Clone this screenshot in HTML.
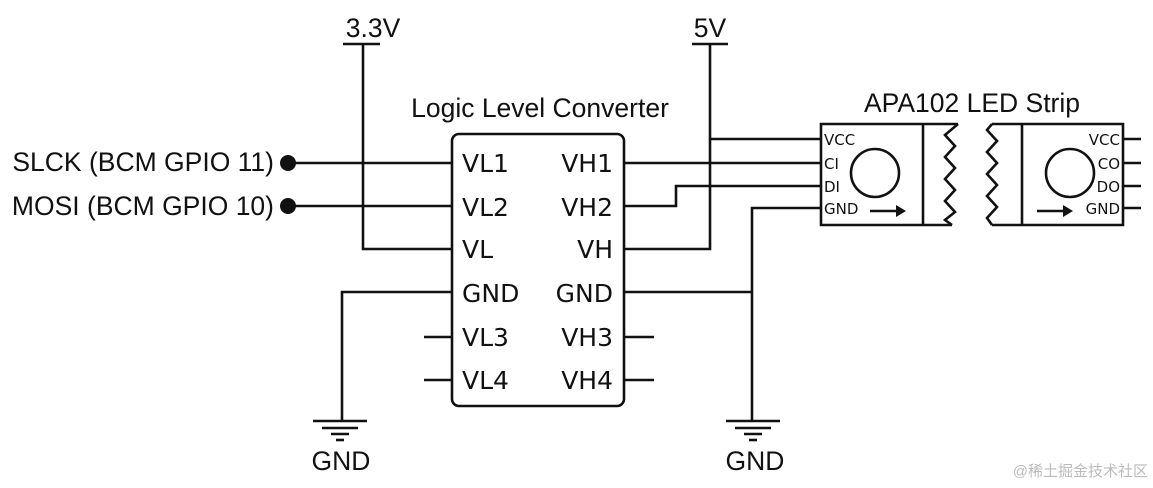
<!DOCTYPE html>
<html><head><meta charset="utf-8"><style>
html,body{margin:0;padding:0;background:#fff;}
svg{display:block;}
.a{font-family:"Liberation Sans",sans-serif;font-size:26.5px;fill:#111;}
.d{font-family:"DejaVu Sans",sans-serif;font-size:25px;fill:#111;}
.s{font-family:"DejaVu Sans",sans-serif;font-size:15px;fill:#111;}
</style></head><body>
<svg width="1153" height="488" viewBox="0 0 1153 488" xmlns="http://www.w3.org/2000/svg">
<g stroke="#111" stroke-width="2.6" fill="none">
<rect x="452" y="134" width="172" height="272" rx="7"/>
<line x1="343" y1="44" x2="380" y2="44"/>
<polyline points="363,44 363,249 452,249"/>
<line x1="692" y1="44" x2="728" y2="44"/>
<polyline points="624,249 710,249 710,44"/>
<line x1="710" y1="139" x2="821" y2="139"/>
<line x1="288" y1="163" x2="452" y2="163"/>
<line x1="288" y1="206" x2="452" y2="206"/>
<line x1="624" y1="163" x2="821" y2="163"/>
<polyline points="624,206 676,206 676,186 821,186"/>
<polyline points="452,292 342,292 342,421"/>
<polyline points="624,292 752,292"/>
<polyline points="821,208 752,208 752,421"/>
<line x1="424" y1="337" x2="452" y2="337"/>
<line x1="424" y1="380" x2="452" y2="380"/>
<line x1="624" y1="337" x2="654" y2="337"/>
<line x1="624" y1="380" x2="654" y2="380"/>
<line x1="313" y1="421" x2="367" y2="421"/>
<line x1="322" y1="428" x2="358" y2="428"/>
<line x1="331" y1="434" x2="349" y2="434"/>
<line x1="336" y1="440" x2="344" y2="440"/>
<line x1="726" y1="421" x2="780" y2="421"/>
<line x1="735" y1="428" x2="771" y2="428"/>
<line x1="744" y1="434" x2="762" y2="434"/>
<line x1="749" y1="440" x2="757" y2="440"/>
<polyline points="958,124 821,124 821,225 952,225"/>
<line x1="923" y1="124" x2="923" y2="225"/>
<polyline points="958,124 945,135 955,146 945,157 955,168 945,179 955,190 945,201 955,212 945,220 952,225"/>
<circle cx="875" cy="173" r="24"/>
<polyline points="992,124 1123,124 1123,225 992,225"/>
<line x1="1022" y1="124" x2="1022" y2="225"/>
<polyline points="992,124 987,130 997,141 987,152 997,163 987,174 997,185 987,196 997,207 987,218 992,225"/>
<circle cx="1070" cy="173" r="24"/>
<line x1="1123" y1="139" x2="1141" y2="139"/>
<line x1="1123" y1="163" x2="1141" y2="163"/>
<line x1="1123" y1="186" x2="1141" y2="186"/>
<line x1="1123" y1="208" x2="1141" y2="208"/>
<line x1="870" y1="211" x2="900" y2="211"/>
<line x1="1037" y1="211" x2="1067" y2="211"/>
</g>
<polygon points="906,211 896,205 896,217" fill="#111"/>
<polygon points="1073,211 1063,205 1063,217" fill="#111"/>
<circle cx="288" cy="163" r="8" fill="#111"/>
<circle cx="288" cy="206" r="8" fill="#111"/>
<text class="a" x="373" y="37" text-anchor="middle">3.3V</text>
<text class="a" x="710" y="37" text-anchor="middle">5V</text>
<text class="a" x="540" y="117" text-anchor="middle">Logic Level Converter</text>
<text class="a" x="972" y="112" text-anchor="middle">APA102 LED Strip</text>
<text class="a" x="274" y="171" text-anchor="end">SLCK (BCM GPIO 11)</text>
<text class="a" x="274" y="215" text-anchor="end">MOSI (BCM GPIO 10)</text>
<text class="a" x="341" y="470" text-anchor="middle">GND</text>
<text class="a" x="755" y="470" text-anchor="middle">GND</text>
<g class="d">
<text x="462" y="172">VL1</text><text x="462" y="216">VL2</text><text x="462" y="258">VL</text>
<text x="462" y="302">GND</text><text x="462" y="346">VL3</text><text x="462" y="389">VL4</text>
<g text-anchor="end"><text x="613" y="172">VH1</text><text x="613" y="216">VH2</text><text x="613" y="258">VH</text>
<text x="613" y="302">GND</text><text x="613" y="346">VH3</text><text x="613" y="389">VH4</text></g>
</g>
<g class="s">
<text x="824" y="145">VCC</text><text x="824" y="169">CI</text><text x="824" y="192">DI</text><text x="824" y="214">GND</text>
<g text-anchor="end"><text x="1120" y="145">VCC</text><text x="1120" y="169">CO</text><text x="1120" y="192">DO</text><text x="1120" y="214">GND</text></g>
</g>
<text x="1148" y="476" text-anchor="end" style="font-family:'Liberation Sans','Noto Sans CJK SC',sans-serif;font-size:15px;fill:#bbb">@稀土掘金技术社区</text>
</svg>
</body></html>
